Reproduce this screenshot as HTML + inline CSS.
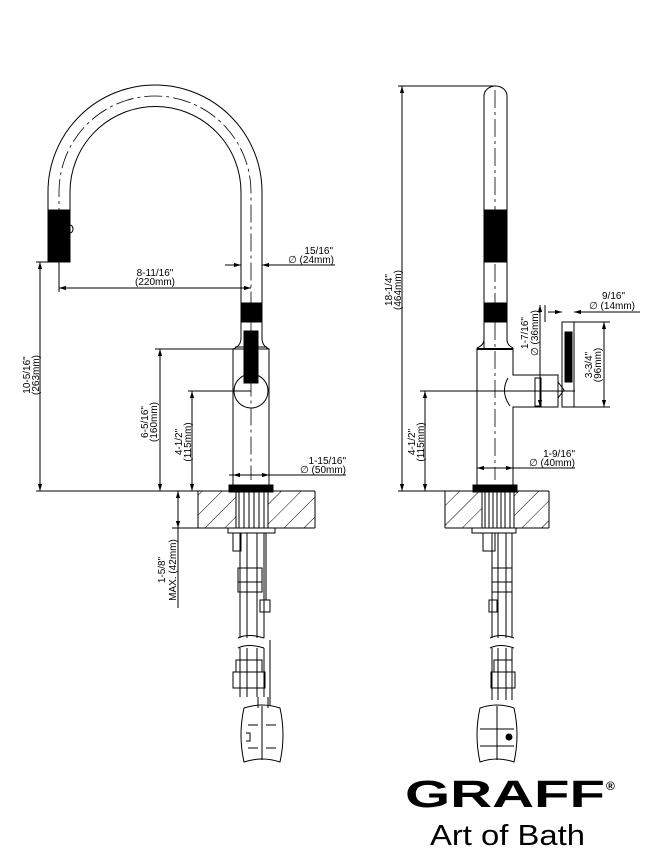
<!DOCTYPE html>
<html><head><meta charset="utf-8"><style>
html,body{margin:0;padding:0;background:#fff;}
svg{display:block;}
text{font-family:"Liberation Sans",sans-serif;fill:#000;}
</style></head><body>
<svg width="649" height="855" viewBox="0 0 649 855" xmlns="http://www.w3.org/2000/svg">
<defs>
<pattern id="h" width="14" height="14" patternUnits="userSpaceOnUse" patternTransform="rotate(45)">
<line x1="0" y1="0" x2="0" y2="14" stroke="#000" stroke-width="1"/>
</pattern>
<marker id="a" viewBox="0 0 10 10" refX="10" refY="5" markerWidth="7" markerHeight="7" orient="auto-start-reverse"><path d="M0,2 L10,5 L0,8 z" fill="#000"/></marker>
</defs>
<g fill="none" stroke="#000" stroke-width="1">
<path d="M48,262 V192 A107,107 0 0 1 262,192 V303"/>
<path d="M70,210 V192 A85,85 0 0 1 241,192 V303"/>
<path d="M59,255 V192 A96,96 0 0 1 251,192 V480" stroke-dasharray="18,4,3,4" stroke-width="0.8"/>
<rect x="48" y="210" width="22" height="52" fill="#000"/>
<path d="M70,225 a3,4 0 0 1 0,8"/>
<rect x="241" y="303" width="21" height="19" fill="#000"/>
<path d="M241,322 V338 Q241,346 233,349 V485 M262,322 V338 Q262,346 269,349 V485"/>
<line x1="233" y1="349" x2="269" y2="349"/><line x1="235" y1="347" x2="267" y2="347"/>
<circle cx="251" cy="391" r="17"/>
<rect x="244" y="331" width="14" height="52" fill="#000"/>
<rect x="229" y="485" width="44" height="7" fill="#000"/>
<rect x="198" y="491" width="117" height="37" fill="url(#h)" stroke="none"/>
<line x1="198" y1="491" x2="315" y2="491"/><line x1="198" y1="528" x2="315" y2="528"/>
<line x1="198" y1="491" x2="198" y2="528"/><line x1="315" y1="491" x2="315" y2="528"/>
<rect x="236" y="492" width="32" height="36" fill="#fff"/>
<path d="M239,492 V528 M244,492 V528 M249,492 V528 M254,492 V528 M259,492 V528 M264,492 V528"/>
<rect x="445" y="491" width="104" height="37" fill="url(#h)" stroke="none"/>
<line x1="445" y1="491" x2="549" y2="491"/><line x1="445" y1="528" x2="549" y2="528"/>
<line x1="445" y1="491" x2="445" y2="528"/><line x1="549" y1="491" x2="549" y2="528"/>
<rect x="482" y="492" width="32" height="36" fill="#fff"/>
<path d="M485,492 V528 M489,492 V528 M493,492 V528 M497,492 V528 M501,492 V528 M505,492 V528 M510,492 V528"/>
<rect x="228" y="528" width="47" height="5"/>
<rect x="233" y="533" width="8" height="18"/>
<path d="M240,533 V638 M247,533 V638 M257,533 V638 M264,533 V638 M266,533 V600"/>
<rect x="238" y="568" width="24" height="14"/><rect x="238" y="582" width="24" height="10"/>
<rect x="260" y="600" width="10" height="12"/>
<path d="M238,638 q10,-5 26,0 M238,648 q10,-5 26,0"/>
<path d="M240,648 V697 M247,648 V697 M257,648 V697 M264,648 V697 M270,640 V705 M258,697 V708 M268,697 V708"/>
<rect x="236" y="660" width="26" height="12"/><rect x="233" y="672" width="32" height="16"/>
<path d="M244,708 Q262,702 280,708 Q286,735 280,762 Q262,756 244,762 Q238,735 244,708 Z"/>
<line x1="262" y1="706" x2="262" y2="760"/>
<path d="M248,725 H258 M266,725 H276 M248,748 H258 M266,748 H276"/>
<path d="M246,733 h4 v8 h-4"/>
<path d="M484,348 V96 A11.5,10 0 0 1 507,96 V340 Q507,345 513,348 M484,340 Q484,345 477,348"/>
<path d="M495,90 V480" stroke-dasharray="18,4,3,4" stroke-width="0.8"/>
<rect x="484" y="210" width="23" height="52" fill="#000"/>
<rect x="484" y="303" width="23" height="19" fill="#000"/>
<line x1="477" y1="349" x2="513" y2="349" stroke-width="2"/>
<path d="M477,348 V485 M513,348 V375 H558 V407 H513 V485"/>
<path d="M508,378 q-8,14 2,28"/>
<rect x="535" y="378" width="6" height="28"/>
<path d="M558,382 l6,8 -6,8"/>
<rect x="562" y="322" width="12" height="85"/>
<rect x="565" y="332" width="7" height="50" fill="#000"/>
<rect x="473" y="485" width="44" height="7" fill="#000"/>
<rect x="472" y="528" width="44" height="5"/>
<rect x="483" y="533" width="12" height="18"/>
<path d="M492,533 V638 M498,533 V638 M506,533 V638 M512,533 V638"/>
<rect x="492" y="568" width="20" height="14"/><rect x="492" y="582" width="20" height="10"/>
<rect x="489" y="600" width="8" height="12"/>
<path d="M490,638 q10,-5 24,0 M490,648 q10,-5 24,0"/>
<path d="M492,648 V700 M498,648 V700 M506,648 V700 M512,648 V700"/>
<rect x="494" y="660" width="18" height="12"/><rect x="491" y="672" width="24" height="16"/>
<path d="M480,708 Q497,702 514,708 Q520,735 514,762 Q497,756 480,762 Q474,735 480,708 Z"/>
<line x1="497" y1="706" x2="497" y2="760"/>
<path d="M480,729 H514 M480,746 H514"/>
<circle cx="509" cy="737" r="3" fill="#000"/>
<line x1="36" y1="262" x2="48" y2="262"/>
<line x1="40" y1="262" x2="40" y2="491" marker-start="url(#a)" marker-end="url(#a)"/>
<line x1="36" y1="491" x2="229" y2="491"/>
<line x1="59" y1="262" x2="59" y2="292"/>
<line x1="59" y1="288" x2="251" y2="288" marker-start="url(#a)" marker-end="url(#a)"/>
<line x1="225" y1="265" x2="241" y2="265" marker-end="url(#a)"/>
<line x1="335" y1="265" x2="262" y2="265" marker-end="url(#a)"/>
<line x1="155" y1="349" x2="233" y2="349"/>
<line x1="160" y1="349" x2="160" y2="491" marker-start="url(#a)" marker-end="url(#a)"/>
<line x1="188" y1="391" x2="251" y2="391"/>
<line x1="192" y1="391" x2="192" y2="491" marker-start="url(#a)" marker-end="url(#a)"/>
<line x1="233" y1="475" x2="269" y2="475" marker-start="url(#a)" marker-end="url(#a)"/>
<line x1="229" y1="475" x2="233" y2="475"/><line x1="269" y1="475" x2="346" y2="475"/>
<line x1="178" y1="491" x2="178" y2="528" marker-start="url(#a)" marker-end="url(#a)"/>
<line x1="172" y1="528" x2="198" y2="528"/>
<line x1="178" y1="528" x2="178" y2="608"/>
<line x1="398" y1="86" x2="495" y2="86"/>
<line x1="402" y1="86" x2="402" y2="491" marker-start="url(#a)" marker-end="url(#a)"/>
<line x1="398" y1="491" x2="473" y2="491"/>
<line x1="420" y1="391" x2="575" y2="391"/>
<line x1="425" y1="391" x2="425" y2="491" marker-start="url(#a)" marker-end="url(#a)"/>
<line x1="477" y1="468" x2="513" y2="468" marker-start="url(#a)" marker-end="url(#a)"/>
<line x1="513" y1="468" x2="575" y2="468"/>
<line x1="540" y1="305" x2="540" y2="407" marker-start="url(#a)" marker-end="url(#a)"/>
<line x1="545" y1="305" x2="545" y2="322"/>
<line x1="548" y1="312" x2="562" y2="312" marker-end="url(#a)"/>
<line x1="640" y1="312" x2="574" y2="312" marker-end="url(#a)"/>
<line x1="574" y1="322" x2="610" y2="322"/><line x1="574" y1="407" x2="610" y2="407"/>
<line x1="604" y1="322" x2="604" y2="407" marker-start="url(#a)" marker-end="url(#a)"/>
</g>
<g font-size="10">
<text x="333" y="254" text-anchor="end">15/16"</text>
<text x="334" y="263" text-anchor="end">∅ (24mm)</text>
<text x="155" y="276" text-anchor="middle">8-11/16"</text>
<text x="155" y="285" text-anchor="middle">(220mm)</text>
<text x="346" y="464" text-anchor="end">1-15/16"</text>
<text x="346" y="473" text-anchor="end">∅ (50mm)</text>
<text transform="translate(30,375) rotate(-90)" text-anchor="middle">10-5/16"</text>
<text transform="translate(39,375) rotate(-90)" text-anchor="middle">(263mm)</text>
<text transform="translate(148,422) rotate(-90)" text-anchor="middle">6-5/16"</text>
<text transform="translate(157,422) rotate(-90)" text-anchor="middle">(160mm)</text>
<text transform="translate(182,442) rotate(-90)" text-anchor="middle">4-1/2"</text>
<text transform="translate(191,442) rotate(-90)" text-anchor="middle">(115mm)</text>
<text transform="translate(165,570) rotate(-90)" text-anchor="middle">1-5/8"</text>
<text transform="translate(176,570) rotate(-90)" text-anchor="middle">MAX. (42mm)</text>
<text transform="translate(392,290) rotate(-90)" text-anchor="middle">18-1/4"</text>
<text transform="translate(401,290) rotate(-90)" text-anchor="middle">(464mm)</text>
<text transform="translate(415,442) rotate(-90)" text-anchor="middle">4-1/2"</text>
<text transform="translate(424,442) rotate(-90)" text-anchor="middle">(115mm)</text>
<text transform="translate(528,333) rotate(-90)" text-anchor="middle">1-7/16"</text>
<text transform="translate(538,333) rotate(-90)" text-anchor="middle">∅ (36mm)</text>
<text transform="translate(592,365) rotate(-90)" text-anchor="middle">3-3/4"</text>
<text transform="translate(601,365) rotate(-90)" text-anchor="middle">(96mm)</text>
<text x="575" y="457" text-anchor="end">1-9/16"</text>
<text x="575" y="466" text-anchor="end">∅ (40mm)</text>
<text x="625" y="299" text-anchor="end">9/16"</text>
<text x="635" y="309" text-anchor="end">∅ (14mm)</text>
</g>
<text x="405" y="807" font-size="38" font-weight="bold" textLength="200" lengthAdjust="spacingAndGlyphs">GRAFF</text>
<text x="606" y="790" font-size="12" font-weight="bold">®</text>
<text x="430" y="845" font-size="29" textLength="155" lengthAdjust="spacingAndGlyphs">Art of Bath</text>
</svg>
</body></html>
